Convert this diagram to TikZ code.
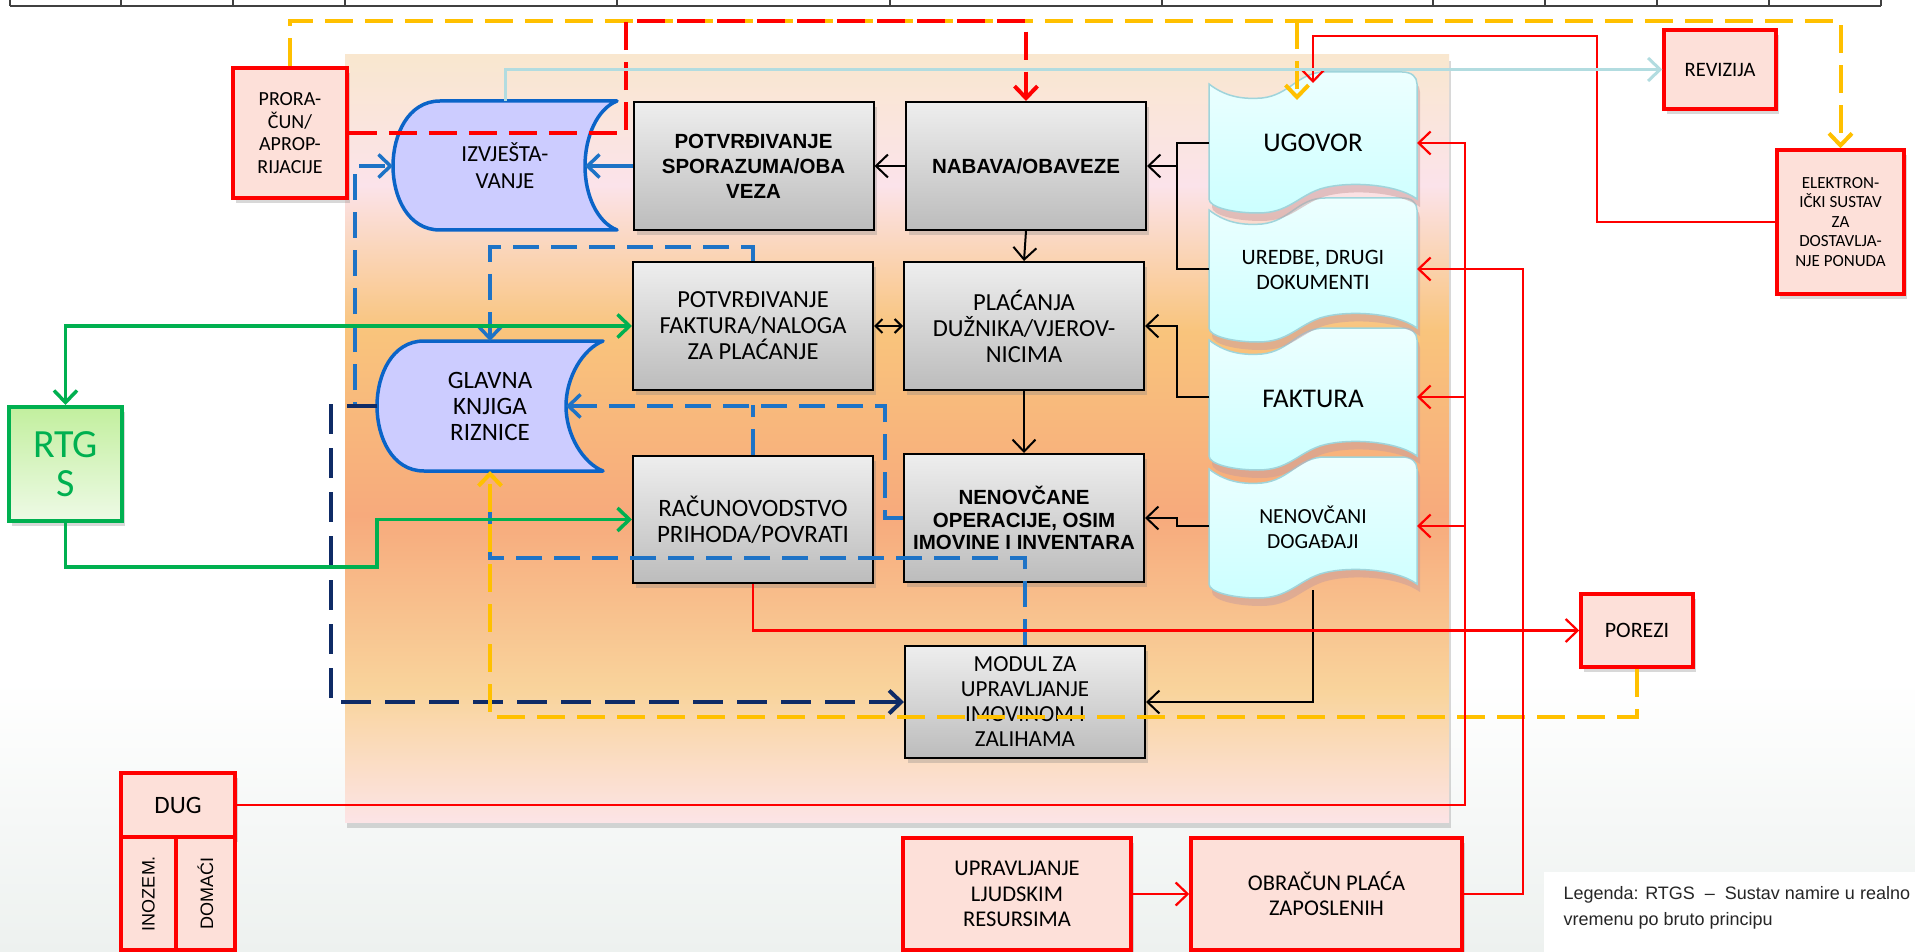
\documentclass[tikz,border=0pt]{standalone}
\usepackage{fontspec}
\setmainfont{Carlito}
\newfontfamily\arialf{Liberation Sans}
\usetikzlibrary{arrows.meta,shadows,calc}
\definecolor{rFill}{HTML}{FDE0D9}
\definecolor{gTop}{HTML}{EEEEEE}
\definecolor{gBot}{HTML}{BCBCBC}
\definecolor{bluel}{HTML}{1E73C6}
\definecolor{navy}{HTML}{0F2B66}
\definecolor{grn}{HTML}{00B050}
\definecolor{ylw}{HTML}{FFC000}
\definecolor{cyl}{HTML}{B2DCE0}
\definecolor{lav}{HTML}{CCCCFF}
\definecolor{dbedge}{HTML}{0B64C8}
\definecolor{docT}{HTML}{EDFFFF}
\definecolor{docB}{HTML}{CCFFFF}
\definecolor{docE}{HTML}{9FD4DB}
\definecolor{docSh}{HTML}{C89C9C}
\definecolor{pnT}{HTML}{F9E7CF}
\definecolor{pnA}{HTML}{FBE3EA}
\definecolor{pnB}{HTML}{F9C47C}
\definecolor{pnC}{HTML}{F7AA7C}
\definecolor{pnD}{HTML}{F9D49C}
\definecolor{pnE}{HTML}{FCE4E6}
\definecolor{bgB}{HTML}{EDF1EF}
\definecolor{rtT}{HTML}{C2EF9E}
\definecolor{rtB}{HTML}{EEFAE6}
\definecolor{tblc}{HTML}{404040}
\pgfdeclareverticalshading{panelshade}{100bp}{color(0bp)=(pnE); color(25bp)=(pnE); color(33.5bp)=(pnD); color(45bp)=(pnC); color(57bp)=(pnB); color(66.5bp)=(pnA); color(75bp)=(pnT); color(100bp)=(pnT)}
\newcommand\myfs[2]{\fontsize{#1}{#2}\selectfont}
\newcommand\docshape[3]{%
  \path[#3] (1209,#1+12) .. controls (1228,#1+27) and (1248,#1+27) .. (1262,#1+26)
   .. controls (1290,#1+23) and (1298,#1) .. (1325,#1) -- (1402,#1)
   .. controls (1412,#1) and (1417,#1+5) .. (1417,#1+12) -- (1417,#2-14)
   .. controls (1395,#2-30) and (1345,#2-32) .. (1320,#2-24)
   .. controls (1297,#2-16) and (1288,#2) .. (1258,#2)
   .. controls (1232,#2) and (1209,#2-6) .. (1209,#2-14) -- cycle;}
\begin{document}
\begin{tikzpicture}[x=1pt,y=-1pt,
  shd/.style={drop shadow={opacity=0.3, shadow xshift=3pt, shadow yshift=-5pt}},
  graybox/.style={draw=black, line width=2pt, top color=gTop, bottom color=gBot, minimum width=240pt, minimum height=128pt, align=center, inner sep=1pt, shd},
  redbox/.style={draw=red, line width=3.5pt, fill=rFill, align=center, inner sep=1pt, shd},
  dbshape/.style={draw=dbedge, line width=3.5pt, fill=lav, line join=round},
  ah/.style={-{Straight Barb[length=12pt,width=23pt]}},
  dah/.style={{Straight Barb[length=12pt,width=23pt]}-{Straight Barb[length=12pt,width=23pt]}},
  reddash/.style={draw=red, line width=4pt, dash pattern=on 28pt off 12pt},
  ylwdash/.style={draw=ylw, line width=4pt, dash pattern=on 28pt off 12pt},
  bluedash/.style={draw=bluel, line width=3.5pt, dash pattern=on 26pt off 12pt},
  navydash/.style={draw=navy, line width=4pt, dash pattern=on 30pt off 14pt},
  grnline/.style={draw=grn, line width=3.5pt},
  redline/.style={draw=red, line width=2.2pt},
  blk/.style={draw=black, line width=2pt},
  cyanline/.style={draw=cyl, line width=3pt}]
\useasboundingbox (0,0) rectangle (1915,952);
\fill[white] (0,0) rectangle (1915,952);
\shade[top color=white, bottom color=bgB] (0,680) rectangle (1915,952);
% table remnant
\draw[tblc, line width=1.5pt] (10,6) -- (1881,6);
\foreach \tx in {10,121,233,345,617,890,1162,1433,1545,1657,1769,1881}
  \draw[tblc, line width=1.5pt] (\tx,0) -- (\tx,6);
% panel
\shade[shading=panelshade, drop shadow={opacity=0.3, shadow xshift=2pt, shadow yshift=-6pt}] (345,55) rectangle (1449,822);
% database-like shapes
\path[dbshape] (617,101) -- (440,101) .. controls (408,101) and (393,135) .. (393,166) .. controls (393,197) and (408,230) .. (440,230) -- (617,230) .. controls (597,222) and (585,195) .. (585,166) .. controls (585,137) and (597,109) .. (617,101) -- cycle;
\path[dbshape] (603,341) -- (424,341) .. controls (392,341) and (377,375) .. (377,406) .. controls (377,437) and (392,471) .. (424,471) -- (603,471) .. controls (583,463) and (566,435) .. (566,406) .. controls (566,377) and (583,349) .. (603,341) -- cycle;
\node[align=center, font=\myfs{23}{27}] (izvjt) at (505,166) {IZVJEŠTA-\\VANJE};
\node[align=center, font=\myfs{25}{26}] (glt) at (490,406) {GLAVNA\\KNJIGA\\RIZNICE};
\coordinate (izvjL) at (393,166);
\coordinate (izvjR) at (585,166);
\coordinate (izvjT) at (505,101);
\coordinate (glL) at (377,406);
\coordinate (glR) at (566,406);
\coordinate (glT) at (490,341);
\coordinate (glB) at (490,471);
% documents
\docshape{457}{598}{fill=docSh, opacity=0.5, shift={(3,8)}}
\docshape{457}{598}{top color=docT, bottom color=docB, draw=docE, line width=1.5pt}
\docshape{328}{470}{fill=docSh, opacity=0.5, shift={(3,8)}}
\docshape{328}{470}{top color=docT, bottom color=docB, draw=docE, line width=1.5pt}
\docshape{198}{342}{fill=docSh, opacity=0.5, shift={(3,8)}}
\docshape{198}{342}{top color=docT, bottom color=docB, draw=docE, line width=1.5pt}
\docshape{72}{213}{fill=docSh, opacity=0.5, shift={(3,8)}}
\docshape{72}{213}{top color=docT, bottom color=docB, draw=docE, line width=1.5pt}
\node[font=\myfs{27}{28}] (ugt) at (1313,143) {UGOVOR};
\node[align=center, font=\myfs{22}{25}] (urt) at (1313,270) {UREDBE, DRUGI\\DOKUMENTI};
\node[font=\myfs{27}{28}] (fkt) at (1313,399) {FAKTURA};
\node[align=center, font=\myfs{21.5}{25}] (nnt) at (1313,527) {NENOVČANI\\DOGAĐAJI};
\coordinate (ugL) at (1209,143);
\coordinate (ugR) at (1417,143);
\coordinate (urL) at (1209,269);
\coordinate (urR) at (1417,269);
\coordinate (fkL) at (1209,397);
\coordinate (fkR) at (1417,397);
\coordinate (nnL) at (1209,526);
\coordinate (nnR) at (1417,526);
\coordinate (nnB) at (1313,590);
\coordinate (ugTy) at (1297,100);
\coordinate (ugTr) at (1313,83);
% gray boxes
\node[graybox, font=\arialf\bfseries\myfs{20.5}{25}] (spor) at (753.5,166) {POTVRĐIVANJE\\SPORAZUMA/OBA\\VEZA};
\node[graybox, font=\arialf\bfseries\myfs{20.5}{25}] (nabava) at (1026,166) {NABAVA/OBAVEZE};
\node[graybox, font=\myfs{24.5}{26}] (fakt) at (753,326) {POTVRĐIVANJE\\FAKTURA/NALOGA\\ZA PLAĆANJE};
\node[graybox, font=\myfs{24.5}{26}] (plac) at (1024,326) {PLAĆANJA\\DUŽNIKA/VJEROV-\\NICIMA};
\node[graybox, minimum height=127pt, font=\myfs{25}{26}] (racun) at (753,519.5) {RAČUNOVODSTVO\\PRIHODA/POVRATI};
\node[graybox, font=\arialf\bfseries\myfs{20.5}{22.5}] (nenov) at (1024,518) {NENOVČANE\\OPERACIJE, OSIM\\IMOVINE I INVENTARA};
\node[graybox, minimum height=112pt, font=\myfs{23}{25}] (modul) at (1025,702) {MODUL ZA\\UPRAVLJANJE\\IMOVINOM I\\ZALIHAMA};
% red boxes
\node[redbox, minimum width=114pt, minimum height=130pt, font=\myfs{20}{22.5}] (prora) at (290,133) {PRORA-\\ČUN/\\APROP-\\RIJACIJE};
\node[redbox, minimum width=112pt, minimum height=79pt, font=\myfs{20.5}{24}] (reviz) at (1720,69.5) {REVIZIJA};
\node[redbox, minimum width=127pt, minimum height=144pt, font=\myfs{17}{19.5}] (elek) at (1840.5,222) {ELEKTRON-\\IČKI SUSTAV\\ZA\\DOSTAVLJA-\\NJE PONUDA};
\node[redbox, minimum width=112pt, minimum height=73pt, font=\myfs{22}{24}] (porezi) at (1637,630.5) {POREZI};
\node[redbox, minimum width=228pt, minimum height=112pt, font=\myfs{22.5}{25.5}] (upr) at (1017,894) {UPRAVLJANJE\\LJUDSKIM\\RESURSIMA};
\node[redbox, minimum width=271pt, minimum height=112pt, font=\myfs{22.5}{25}] (obr) at (1326.5,894) {OBRAČUN PLAĆA\\ZAPOSLENIH};
\node[redbox, minimum width=114pt, minimum height=64pt, font=\myfs{25}{26}] (dug) at (178,805) {DUG};
\node[draw=red, line width=3.5pt, fill=rFill, rotate=90, minimum width=113pt, minimum height=55pt, inner sep=1pt, font=\arialf\myfs{18}{20}] (inoz) at (148.5,893.5) {INOZEM.};
\node[draw=red, line width=3.5pt, fill=rFill, rotate=90, minimum width=113pt, minimum height=59pt, inner sep=1pt, font=\arialf\myfs{18}{20}] (doma) at (205.5,893.5) {DOMAĆI};
% RTGS
\node[draw=grn, line width=4pt, top color=rtT, bottom color=rtB, minimum width=113pt, minimum height=114pt, align=center, text=grn, font=\myfs{40}{39}, shd] (rtgs) at (65.5,464) {RTG\\S};
% legend
\fill[white] (1544,872) rectangle (1915,952);
\node[anchor=west, align=left, text=black!85, font=\arialf\myfs{18}{26}] (legend) at (1560,908) {Legenda: RTGS \ – \ Sustav namire u realno\\vremenu po bruto principu};
\coordinate (ytop) at (1840.5,21);
% ---------------- connectors
\draw[ylwdash, ah] (prora.north) |- (ytop) -- (elek.north);
\draw[ylwdash, ah] (1297,21) -- (ugTy);
\draw[reddash, ah] (prora.east) -| (626,21) -| (nabava.north);
\draw[redline, ah] (elek.west) -| (1597,36) -| (ugTr);
\draw[cyanline, ah] (izvjT) |- (reviz.west);
\draw[bluel, line width=3.5pt, ah] (spor.west) -- (izvjR);
\draw[bluedash, ah] (glL) -- (355,406) -- (355,166) -- (izvjL);
\draw[navydash, ah] (glL) -- (331,406) |- (modul.west);
\draw[bluedash, ah] (fakt.north) -- ++(0,-14) -| (glT);
\draw[bluedash] (racun.north) -- ++(0,-50);
\draw[bluedash, ah] (nenov.west) -| (885,406) -- (glR);
\draw[bluedash] (modul.north) |- (490,558) -- (490,490);
\draw[ylwdash, ah] (porezi.south) -- ++(0,48) -| (glB);
\draw[grnline, dah] (fakt.west) -| (rtgs.north);
\draw[grnline, ah] (rtgs.south) |- (377,567) |- (racun.west);
\draw[blk, ah] (nabava.west) -- (spor.east);
\draw[blk, ah] (nabava.south) -- (plac.north);
\draw[blk, {Straight Barb[length=7pt,width=14pt]}-{Straight Barb[length=7pt,width=14pt]}] (fakt.east) -- (plac.west);
\draw[blk, ah] (plac.south) -- (nenov.north);
\draw[blk] (ugL) -- (1177,143) -- (1177,269) -- (urL);
\draw[blk, ah] (1177,166) -- (nabava.east);
\draw[blk, ah] (fkL) -- (1177,397) |- (plac.east);
\draw[blk, ah] (nnL) -- (1177,526) |- (nenov.east);
\draw[blk, ah] (nnB) |- (modul.east);
\draw[redline, ah] (dug.east) -| (1465,143) -- (ugR);
\draw[redline, ah] (1465,397) -- (fkR);
\draw[redline, ah] (1465,526) -- (nnR);
\draw[redline, ah] (obr.east) -| (1523,269) -- (urR);
\draw[redline, ah] (upr.east) -- (obr.west);
\draw[redline, ah] (racun.south) |- (porezi.west);
\end{tikzpicture}
\end{document}
